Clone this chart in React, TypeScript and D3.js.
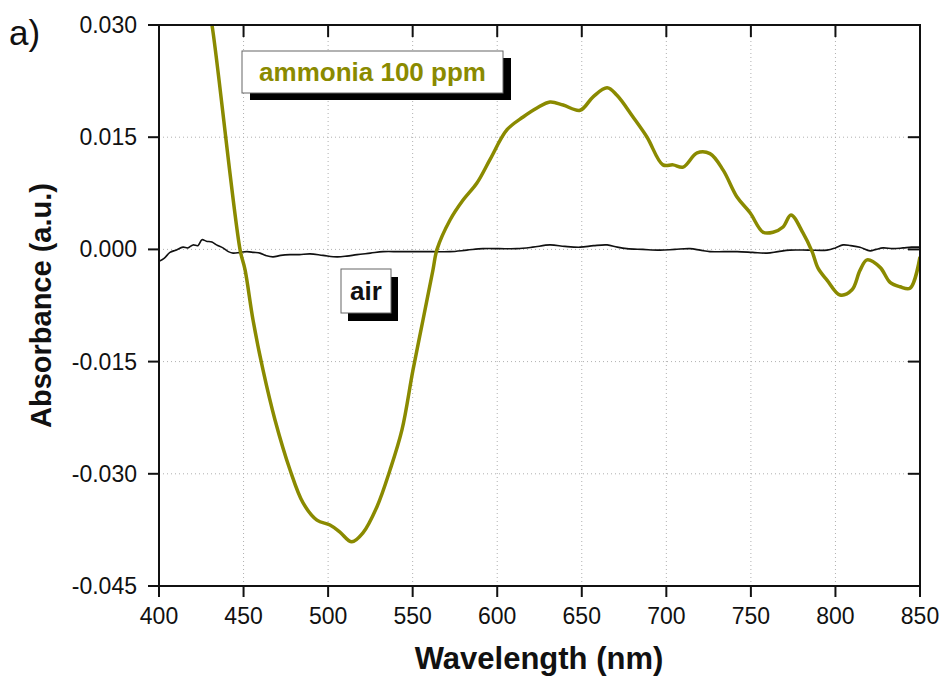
import React from "react";
import * as d3 from "d3";

const xTicks = [400, 450, 500, 550, 600, 650, 700, 750, 800, 850];
const yTicks = [-0.045, -0.03, -0.015, 0.0, 0.015, 0.03];
const yTickLabels = ["-0.045", "-0.030", "-0.015", "0.000", "0.015", "0.030"];

const ammoniaW = [430, 431.3, 447.9, 450.9, 455.6, 461.5, 468.6, 477.5, 485.2, 493.4, 501.1, 507, 514, 520.6, 528.9, 536.6, 543.7, 550.2, 556.1, 562, 564.4, 572.1, 579.8, 588, 595.7, 605.8, 615.3, 623.5, 631.2, 639, 649, 656.7, 665, 670.8, 680.3, 688.6, 698, 704, 709.9, 718.2, 725.8, 733.6, 741.8, 749.5, 757.2, 763.1, 769, 773.7, 780.8, 786.2, 789.7, 795, 802.7, 809.8, 814.5, 818.7, 826.4, 832.3, 838.2, 844.1, 850];
const ammoniaV = [0.0312, 0.030, 0.0, -0.00275, -0.00944, -0.01612, -0.02281, -0.02949, -0.0339, -0.0362, -0.03685, -0.0378, -0.0391, -0.0379, -0.0344, -0.0295, -0.0241, -0.0161, -0.00944, -0.00275, 0.0, 0.00393, 0.0066, 0.00888, 0.012, 0.016, 0.0177, 0.0189, 0.0197, 0.0193, 0.0186, 0.0204, 0.0216, 0.0206, 0.0177, 0.015, 0.0113, 0.0113, 0.011, 0.0129, 0.0128, 0.0106, 0.007, 0.0049, 0.0023, 0.0023, 0.003, 0.0046, 0.0022, -0.0003, -0.0025, -0.0041, -0.0061, -0.0054, -0.0028, -0.0014, -0.0024, -0.0044, -0.005, -0.0052, -0.001];

const airW = [400, 403, 406.5, 410, 414.2, 417, 420.1, 423, 425.4, 428, 431.3, 434, 437.8, 441, 443.8, 448, 452, 456, 459.7, 463, 467.4, 472, 477.5, 483, 489.3, 497, 505.3, 511, 517.1, 525, 532.5, 542, 552.6, 562, 572.1, 582, 591.6, 601, 611.7, 621, 631.2, 640, 649, 657, 665, 671, 676.7, 686, 696.3, 705, 714, 720, 725.8, 734, 741.8, 751, 759.5, 766, 773, 784, 795, 800, 804.5, 809, 814.5, 820.5, 824, 828.2, 834, 840, 845, 850];
const airV = [-0.0016, -0.0012, -0.0004, -0.0001, 0.0003, 0.0002, 0.0006, 0.0005, 0.0013, 0.0011, 0.001, 0.0006, 0.0002, -0.0003, -0.0005, -0.0004, -0.0003, -0.0004, -0.0005, -0.0008, -0.001, -0.0008, -0.0007, -0.0007, -0.0006, -0.0008, -0.001, -0.0009, -0.0007, -0.0005, -0.0003, -0.0003, -0.0003, -0.0003, -0.0003, -0.0001, 0.0001, 0.0001, 0.0001, 0.0003, 0.0006, 0.0004, 0.0003, 0.0005, 0.0006, 0.0003, 0.0001, 0.0, -0.0001, 0.0, 0.0001, -0.0001, -0.0003, -0.0003, -0.0003, -0.0004, -0.0005, -0.0003, -0.0001, -0.0001, -0.0001, 0.0002, 0.0006, 0.0005, 0.0003, -0.0002, 0.0, 0.0002, 0.0001, 0.0002, 0.0003, 0.0003];

const legendAmmonia = "ammonia 100 ppm";
const legendAir = "air";

const OLIVE = "#8a8a00";
const FONT = "'Liberation Sans', Arial, sans-serif";

export default function App() {
  const left = 159, right = 920, top = 25, bottom = 586;
  const x = d3.scaleLinear().domain([400, 850]).range([left, right]);
  const y = d3.scaleLinear().domain([-0.045, 0.03]).range([bottom, top]);

  const line = d3
    .line<[number, number]>()
    .x((d) => x(d[0]))
    .y((d) => y(d[1]))
    .curve(d3.curveCatmullRom.alpha(0.5));

  const ammonia = ammoniaW.map((w, i) => [w, ammoniaV[i]] as [number, number]);
  const air = airW.map((w, i) => [w, airV[i]] as [number, number]);

  return (
    <svg
      width={941}
      height={677}
      style={{ position: "absolute", left: 0, top: 0, background: "#fff" }}
      fontFamily={FONT}
    >
      <defs>
        <clipPath id="plotclip">
          <rect x={left} y={top} width={right - left} height={bottom - top} />
        </clipPath>
      </defs>
      <rect width={941} height={677} fill="#fff" />

      {/* grid */}
      {xTicks.slice(1, -1).map((t) => (
        <line key={"gx" + t} x1={x(t)} x2={x(t)} y1={top} y2={bottom} stroke="#b0b0b0" strokeWidth={1} strokeDasharray="1,3" />
      ))}
      {yTicks.slice(1, -1).map((t) => (
        <line key={"gy" + t} x1={left} x2={right} y1={y(t)} y2={y(t)} stroke="#b0b0b0" strokeWidth={1} strokeDasharray="1,3" />
      ))}

      {/* data */}
      <g clipPath="url(#plotclip)">
        <path d={line(air) || ""} fill="none" stroke="#111" strokeWidth={1.6} />
        <path d={line(ammonia) || ""} fill="none" stroke={OLIVE} strokeWidth={3.5} strokeLinejoin="round" />
      </g>

      {/* frame */}
      <rect x={left} y={top} width={right - left} height={bottom - top} fill="none" stroke="#111" strokeWidth={2} />

      {/* x ticks */}
      {xTicks.map((t) => (
        <g key={"xt" + t}>
          <line x1={x(t)} x2={x(t)} y1={bottom} y2={bottom + 11} stroke="#111" strokeWidth={2} />
          <line x1={x(t)} x2={x(t)} y1={top} y2={top + 12} stroke="#111" strokeWidth={2} />
          <text x={x(t)} y={624} textAnchor="middle" fontSize={23} fill="#111">
            {t}
          </text>
        </g>
      ))}
      {/* y ticks */}
      {yTicks.map((t, i) => (
        <g key={"yt" + t}>
          <line x1={left - 11} x2={left} y1={y(t)} y2={y(t)} stroke="#111" strokeWidth={2} />
          <line x1={right - 12} x2={right} y1={y(t)} y2={y(t)} stroke="#111" strokeWidth={2} />
          <text x={137} y={y(t) + 8} textAnchor="end" fontSize={23} fill="#111">
            {yTickLabels[i]}
          </text>
        </g>
      ))}

      {/* axis titles */}
      <text x={539} y={669} textAnchor="middle" fontSize={31} fontWeight="bold" fill="#111">
        Wavelength (nm)
      </text>
      <text
        transform={`translate(51, ${(top + bottom) / 2}) rotate(-90)`}
        textAnchor="middle"
        fontSize={29}
        fontWeight="bold"
        fill="#111"
      >
        Absorbance (a.u.)
      </text>

      <text x={9} y={45} fontSize={35} fill="#111">
        a)
      </text>

      {/* legend: ammonia */}
      <rect x={250} y={58} width={261} height={42} fill="#000" />
      <rect x={242} y={51} width={261} height={42} fill="#fff" stroke="#666" strokeWidth={1} />
      <text x={372.5} y={81} textAnchor="middle" fontSize={26} fontWeight="bold" fill={OLIVE}>
        {legendAmmonia}
      </text>

      {/* legend: air */}
      <rect x={348} y={277} width={50} height={44} fill="#000" />
      <rect x={341} y={269} width={50} height={44} fill="#fff" stroke="#666" strokeWidth={1} />
      <text x={366} y={300} textAnchor="middle" fontSize={26} fontWeight="bold" fill="#111">
        {legendAir}
      </text>
    </svg>
  );
}
